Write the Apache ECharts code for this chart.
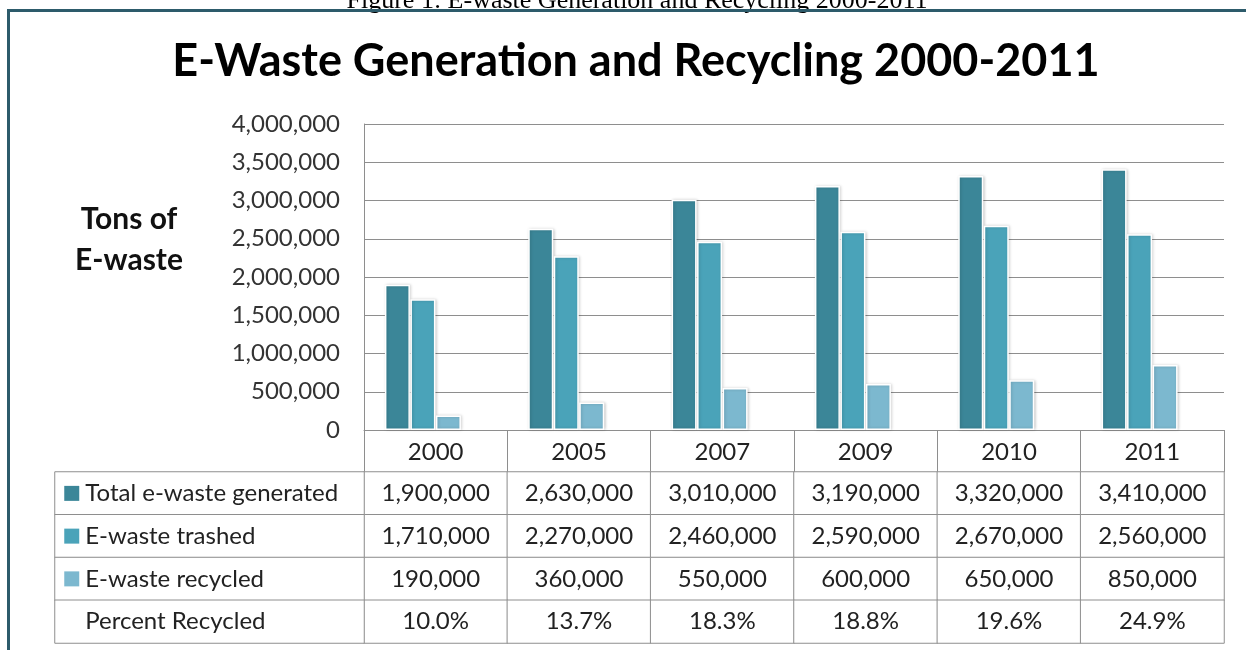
<!DOCTYPE html>
<html>
<head>
<meta charset="utf-8">
<script src="https://cdn.jsdelivr.net/npm/echarts@6/dist/echarts.min.js"></script>
<style>
  html, body { margin: 0; padding: 0; background: #fff; }
  #chart { width: 1246px; height: 650px; }
</style>
</head>
<body>
<div id="chart"></div>
<script>
// ---- data ----
const years = ['2000', '2005', '2007', '2009', '2010', '2011'];
const totalGenerated = [1900000, 2630000, 3010000, 3190000, 3320000, 3410000];
const eWasteTrashed = [1710000, 2270000, 2460000, 2590000, 2670000, 2560000];
const eWasteRecycled = [190000, 360000, 550000, 600000, 650000, 850000];
const percentRecycled = [10.0, 13.7, 18.3, 18.8, 19.6, 24.9];
const seriesNames = ['Total e-waste generated', 'E-waste trashed', 'E-waste recycled', 'Percent Recycled'];
const yMin = 0, yMax = 4000000, yInterval = 500000;
const titleText = 'E-Waste Generation and Recycling 2000-2011';
const captionText = 'Figure 1: E-waste Generation and Recycling 2000-2011';
const yAxisTitle = 'Tons of\nE-waste';

// ---- styling ----
const colors = ['#3b8698', '#4aa3b9', '#7cb8cf', 'rgba(0,0,0,0)'];
const gridGray = '#8e8e8e';
const FONT = 'Lato';

function fmt(n) {
  return String(Math.round(n)).replace(/\B(?=(\d{3})+(?!\d))/g, ',');
}
const tableRows = [
  totalGenerated.map(fmt),
  eWasteTrashed.map(fmt),
  eWasteRecycled.map(fmt),
  percentRecycled.map(v => v.toFixed(1) + '%')
];

const cellData = [];
for (let r = 0; r < tableRows.length; r++) {
  for (let c = 0; c < years.length; c++) cellData.push([c, r, 0]);
}
const keyData = seriesNames.map((n, r) => [0, r, 0]);

const barValues = [totalGenerated, eWasteTrashed, eWasteRecycled, percentRecycled];
const barSeries = barValues.map((vals, i) => ({
  type: 'bar',
  name: seriesNames[i],
  xAxisIndex: 0, yAxisIndex: 0,
  data: vals,
  barWidth: 25,
  barGap: '2%',
  silent: true,
  itemStyle: i < 3 ? {
    color: colors[i],
    borderColor: '#ffffff',
    borderWidth: 1.5,
    shadowColor: 'rgba(0,0,0,0.18)',
    shadowBlur: 3,
    shadowOffsetX: 1
  } : { color: colors[i] }
}));

const rich = { gap: { width: 6 }, t: { fontSize: 24, fontFamily: FONT, color: '#222' } };
colors.forEach((c, i) => { rich['sq' + i] = { width: 15, height: 15, backgroundColor: c }; });

const chart = echarts.init(document.getElementById('chart'), null, { renderer: 'canvas' });
chart.setOption({
  backgroundColor: '#ffffff',
  animation: false,
  title: [
    {
      text: titleText,
      left: 631, top: 34, textAlign: 'center',
      textStyle: { fontFamily: FONT, fontWeight: 'bold', fontSize: 45, color: '#000' }
    },
    {
      text: yAxisTitle,
      left: 124, top: 194, textAlign: 'center',
      textStyle: { fontFamily: FONT, fontWeight: 'bold', fontSize: 30, lineHeight: 41, color: '#111' }
    }
  ],
  graphic: [
    {
      type: 'text', z: 1, silent: true,
      style: { text: captionText, x: 637, y: 14, align: 'center', verticalAlign: 'bottom', font: '26px "Liberation Serif"', fill: '#000' }
    },
    {
      type: 'rect', z: 2, silent: true,
      shape: { x: 8.5, y: 10.5, width: 1260, height: 700 },
      style: { fill: 'none', stroke: '#2d5b6b', lineWidth: 3 }
    }
  ],
  grid: [
    { left: 364, right: 22, top: 124, height: 306 },
    { left: 364, right: 22, top: 472, height: 171 },
    { left: 55, width: 309, top: 472, height: 171 }
  ],
  xAxis: [
    {
      gridIndex: 0, type: 'category', data: years,
      axisLine: { show: true, lineStyle: { color: gridGray, width: 1 } },
      axisTick: { show: true, length: 42, interval: 0, lineStyle: { color: gridGray, width: 1 } },
      axisLabel: { fontFamily: FONT, fontSize: 24, color: '#222', margin: 22, verticalAlign: 'middle', interval: 0 },
      splitLine: { show: false }
    },
    { gridIndex: 1, type: 'category', data: years, show: false },
    { gridIndex: 2, type: 'category', data: ['key'], show: false }
  ],
  yAxis: [
    {
      gridIndex: 0, type: 'value', min: yMin, max: yMax, interval: yInterval,
      axisLine: { show: true, lineStyle: { color: gridGray, width: 1 } },
      axisTick: { show: false },
      axisLabel: { fontFamily: FONT, fontSize: 24, color: '#333', margin: 24, formatter: v => fmt(v) },
      splitLine: { show: true, lineStyle: { color: gridGray, width: 1 } }
    },
    { gridIndex: 1, type: 'category', data: seriesNames, inverse: true, show: false },
    { gridIndex: 2, type: 'category', data: seriesNames, inverse: true, show: false }
  ],
  series: barSeries.concat([
    {
      type: 'heatmap', xAxisIndex: 1, yAxisIndex: 1, data: cellData, silent: true,
      itemStyle: { color: '#ffffff', borderColor: gridGray, borderWidth: 1 },
      emphasis: { disabled: true },
      label: {
        show: true, fontFamily: FONT, fontSize: 24, color: '#222',
        formatter: p => tableRows[p.data[1]][p.data[0]]
      }
    },
    {
      type: 'heatmap', xAxisIndex: 2, yAxisIndex: 2, data: keyData, silent: true,
      itemStyle: { color: '#ffffff', borderColor: gridGray, borderWidth: 1 },
      emphasis: { disabled: true },
      label: {
        show: true, position: 'insideLeft', distance: 10,
        formatter: p => '{sq' + p.data[1] + '| }{gap| }{t|' + seriesNames[p.data[1]] + '}',
        rich: rich
      }
    }
  ])
});
</script>
</body>
</html>
